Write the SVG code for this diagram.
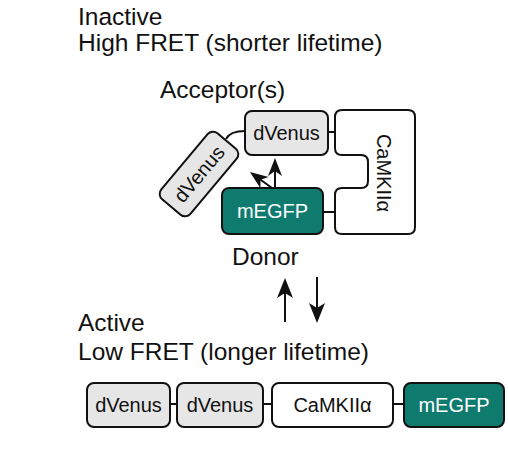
<svg xmlns="http://www.w3.org/2000/svg" width="508" height="453" viewBox="0 0 508 453">
  <defs>
    <style>
      .lbl { font-family: "Liberation Sans", Arial, Helvetica, sans-serif; font-size: 24.5px; fill: #111; }
      .box-t { font-family: "Liberation Sans", Arial, Helvetica, sans-serif; font-size: 20px; fill: #111; text-anchor: middle; }
      .box-w { fill: #fff; }
      .gray { fill: #e6e6e6; stroke: #111; stroke-width: 2; }
      .white { fill: #fff; stroke: #111; stroke-width: 2; }
      .teal { fill: #0f7b6f; stroke: #111; stroke-width: 2; }
      .conn { fill: none; stroke: #111; stroke-width: 2; }
    </style>
    <marker id="headS" markerUnits="userSpaceOnUse" markerWidth="20" markerHeight="16" viewBox="-14 -8 20 16" refX="0" refY="0" orient="auto" overflow="visible">
      <path d="M5,0 L-13,-7 L-8,0 L-13,7 Z" fill="#111"/>
    </marker>
    <marker id="headL" markerUnits="userSpaceOnUse" markerWidth="22" markerHeight="18" viewBox="-15 -9 22 18" refX="0" refY="0" orient="auto" overflow="visible">
      <path d="M6,0 L-14,-8 L-9,0 L-14,8 Z" fill="#111"/>
    </marker>
  </defs>

  <g id="labels">
    <text class="lbl" x="78" y="25">Inactive</text>
    <text class="lbl" x="78" y="51">High FRET (shorter lifetime)</text>
    <text class="lbl" x="160" y="98">Acceptor(s)</text>
    <text class="lbl" x="232" y="265">Donor</text>
    <text class="lbl" x="78" y="331">Active</text>
    <text class="lbl" x="78" y="360">Low FRET (longer lifetime)</text>
  </g>

  <g id="connectors">
    <path class="conn" d="M226,139 Q230,131 245,131"/>
    <path class="conn" d="M328,132 H335"/>
    <path class="conn" d="M323,212 H335"/>
    <path class="conn" d="M275,188 V163" marker-end="url(#headS)"/>
    <path class="conn" d="M272,188 L254,175" marker-end="url(#headS)"/>
    <path class="conn" d="M285,322 V284" marker-end="url(#headL)"/>
    <path class="conn" d="M317,277 V317" marker-end="url(#headL)"/>
    <path class="conn" d="M170,404 H177"/>
    <path class="conn" d="M263,404 H272"/>
    <path class="conn" d="M393,404 H404"/>
  </g>

  <g id="inactive-dvenus-rot">
    <g transform="translate(199,174) rotate(-50)">
      <rect class="gray" x="-43" y="-19" width="86" height="38" rx="7"/>
      <text class="box-t" x="0" y="7">dVenus</text>
    </g>
  </g>
  <g id="inactive-dvenus">
    <rect class="gray" x="245" y="111" width="83" height="44" rx="7"/>
    <text class="box-t" x="286.5" y="140">dVenus</text>
  </g>
  <g id="inactive-camkii">
    <path class="white" d="M342,110 H408 Q415,110 415,117 V227 Q415,234 408,234 H342 Q335,234 335,227 V195 Q335,188 342,188 H361 Q368,188 368,181 V162 Q368,155 361,155 H342 Q335,155 335,148 V117 Q335,110 342,110 Z"/>
    <g transform="translate(384,173) rotate(90)">
      <text class="box-t" x="0" y="7">CaMKIIα</text>
    </g>
  </g>
  <g id="inactive-megfp">
    <rect class="teal" x="222" y="188" width="101" height="46" rx="7"/>
    <text class="box-t box-w" x="272.5" y="218">mEGFP</text>
  </g>

  <g id="active-dvenus1">
    <rect class="gray" x="87" y="383" width="83" height="44" rx="7"/>
    <text class="box-t" x="128.5" y="412">dVenus</text>
  </g>
  <g id="active-dvenus2">
    <rect class="gray" x="177" y="383" width="86" height="44" rx="7"/>
    <text class="box-t" x="220" y="412">dVenus</text>
  </g>
  <g id="active-camkii">
    <rect class="white" x="272" y="383" width="121" height="44" rx="7"/>
    <text class="box-t" x="332.5" y="412">CaMKIIα</text>
  </g>
  <g id="active-megfp">
    <rect class="teal" x="404" y="383" width="100" height="44" rx="7"/>
    <text class="box-t box-w" x="454" y="412">mEGFP</text>
  </g>
</svg>
